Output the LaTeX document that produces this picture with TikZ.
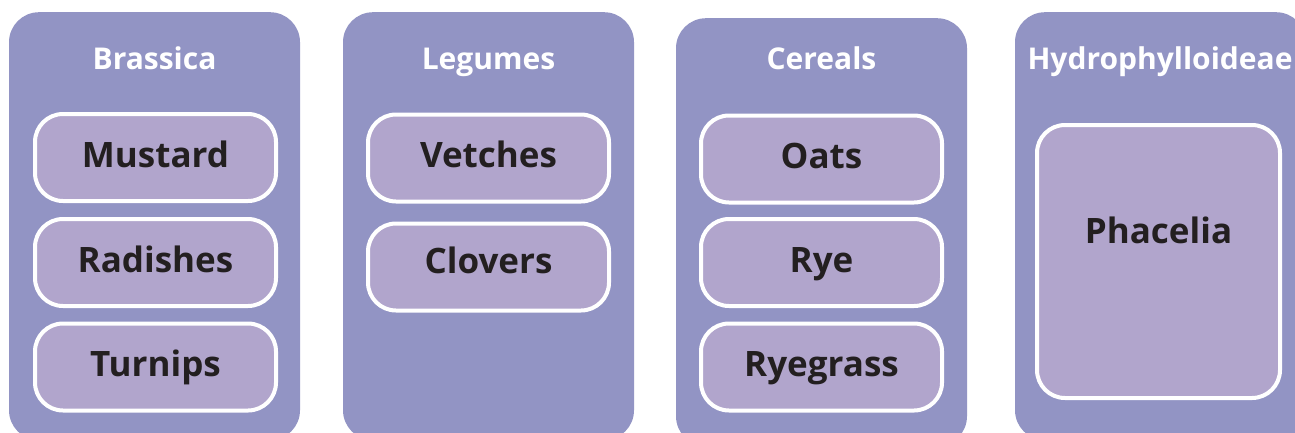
\documentclass[tikz,border=0pt]{standalone}
\usepackage{fontspec}
\setmainfont{Open Sans}
\definecolor{outerc}{RGB}{146,148,196}
\definecolor{innerc}{RGB}{177,165,204}
\definecolor{textc}{RGB}{35,31,32}
\begin{document}
\begin{tikzpicture}[x=1pt,y=-1pt,
  group/.style={fill=outerc,draw=none,rounded corners=30pt,minimum width=291pt,minimum height=428pt,inner sep=0pt},
  title/.style={text=white,font=\fontsize{30}{32}\selectfont\bfseries,inner sep=0pt,anchor=base},
  item/.style={fill=innerc,draw=white,line width=4pt,rounded corners=28pt,minimum width=241pt,minimum height=87pt,inner sep=0pt,text=textc,font=\fontsize{35}{38}\selectfont\bfseries,text height=25pt,text depth=6pt},
  big/.style={item,minimum width=243pt,minimum height=273pt}]
\useasboundingbox (0,0) rectangle (1295,432);
\clip (0,0) rectangle (1295,432);
\fill[white] (0,0) rectangle (1295,432);
% groups
\node[group,anchor=north] (g1) at (154.5,12) {};
\node[group,anchor=north] (g2) at (488.5,12) {};
\node[group,anchor=north] (g3) at (821.5,18) {};
\node[group,anchor=north] (g4) at (1160.5,12) {};
% titles
\node[title] (t1) at (154.5,69) {Brassica};
\node[title] (t2) at (488.5,69) {Legumes};
\node[title] (t3) at (821.5,69) {Cereals};
\node[title] (t4) at (1160,69) {Hydrophylloideae};
% items
\node[item] (mustard) at (155.5,157.5) {Mustard};
\node[item] (radishes) at (155.5,262.5) {Radishes};
\node[item] (turnips) at (155.5,367) {Turnips};
\node[item] (vetches) at (488.5,158) {Vetches};
\node[item,text depth=13pt] (clovers) at (488.5,267) {Clovers};
\node[item] (oats) at (821.5,159) {Oats};
\node[item] (rye) at (821.5,262.5) {Rye};
\node[item] (ryegrass) at (821.5,367) {Ryegrass};
\node[big] (phacelia) at (1158.5,261.5) {};
\node[text=textc,font=\fontsize{35}{38}\selectfont\bfseries,inner sep=0pt,anchor=base] (phaceliatext) at (1158.5,243) {Phacelia};
\end{tikzpicture}
\end{document}
